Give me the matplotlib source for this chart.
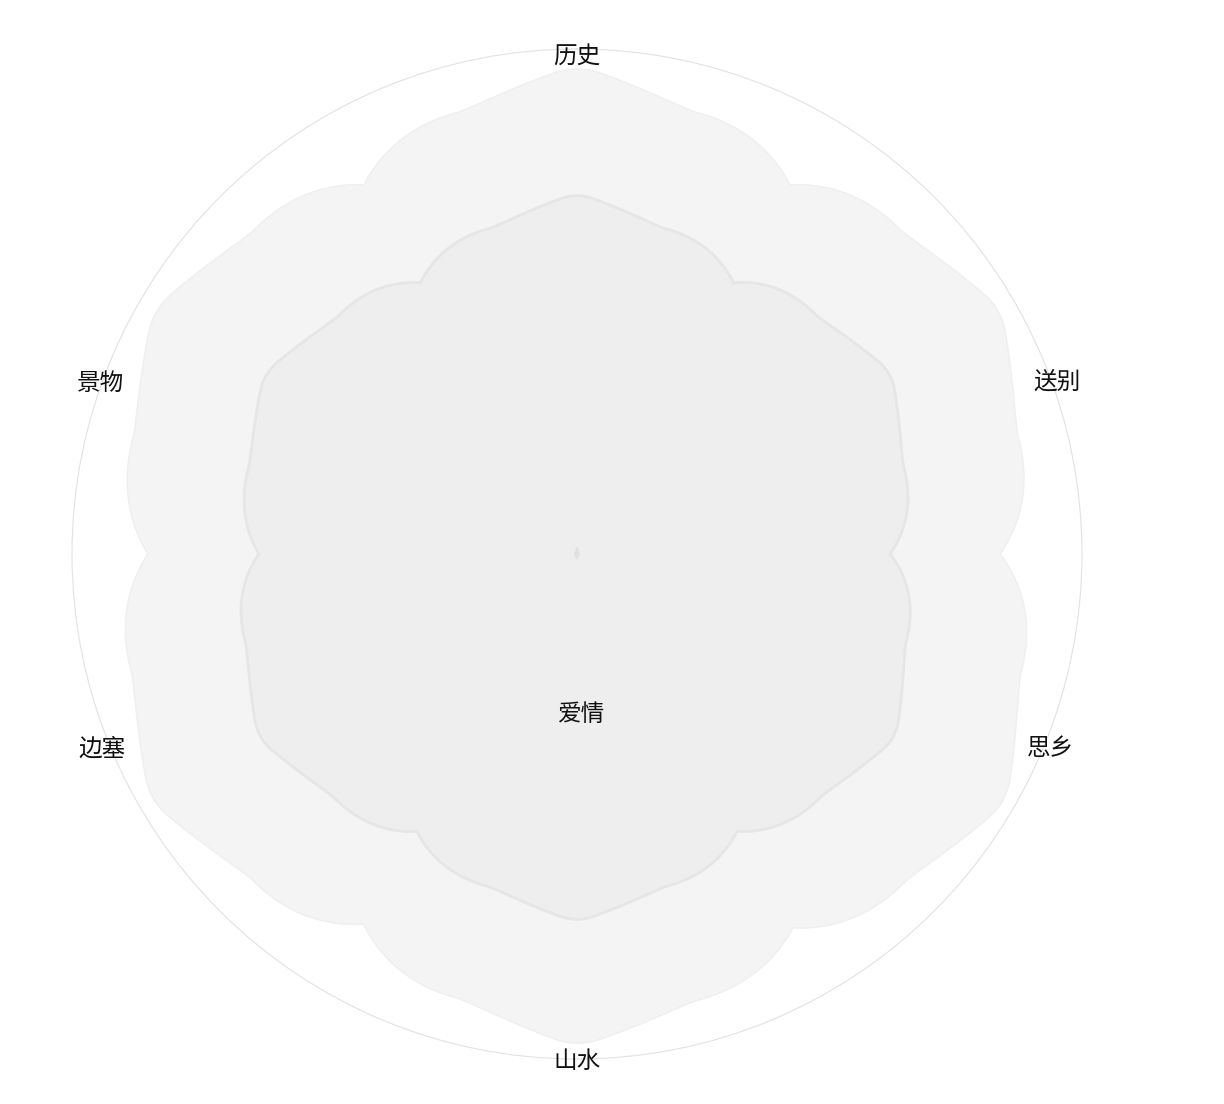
import numpy as np
import matplotlib
matplotlib.use('Agg')
import matplotlib.pyplot as plt

# ---------------- data ----------------
labels = ['历史', '送别', '思乡', '山水', '边塞', '景物']
label_angles = [0, 70, 112, 180, 248, 290]          # degrees, clockwise from top
label_radii = [99.2, 101.1, 101.1, 99.8, 101.4, 100.4]
center_label = '爱情'
center_label_pos = (178.5, 31.5)                     # (angle, radius)

peak_angles = [0, 60, 120, 180, 240, 300]            # notches lie halfway between
outer_peaks = [96.8, 97.0, 98.2, 97.6, 97.6, 96.8]
outer_notches = [84.4, 83.8, 85.5, 84.6, 85.0, 84.4]
inner_peaks = [71.5, 71.9, 72.9, 72.9, 72.9, 71.5]
inner_notches = [62.0, 62.0, 63.4, 63.4, 63.0, 62.0]
core_peaks = [1.3, 0.5, 0.5, 1.0, 0.5, 0.5]
core_notches = [0.3, 0.3, 0.3, 0.3, 0.3, 0.3]
r_max = 100

# ---------------- rendering helpers ----------------
P1, P2, T0 = 1.3, 2.3, 0.09

def _g(phi):
    return np.where(phi <= 0.5,
                    0.5 + 0.5 * np.clip(1 - 2 * phi, 0, None) ** P1,
                    0.5 - 0.5 * np.clip(2 * phi - 1, 0, None) ** P2)

def profile(phi):
    phi = np.abs(phi)
    # rounded cap at the tip of each petal
    slope = P1 * (1 - 2 * T0) ** (P1 - 1)
    b = slope / (2 * T0)
    a = float(_g(np.array(T0))) + b * T0 ** 2
    return np.where(phi < T0, a - b * phi ** 2, _g(phi))

def petal_curve(peaks, notches, n=240):
    th_all, r_all = [], []
    for k in range(len(peaks)):
        phi = np.linspace(-1, 1, n, endpoint=False)
        side = np.where(phi >= 0, notches[k], notches[k - 1])
        r = side + (peaks[k] - side) * profile(phi)
        th = np.deg2rad(peak_angles[k] + 30 * phi)
        th_all.append(th)
        r_all.append(r)
    th = np.concatenate(th_all)
    r = np.concatenate(r_all)
    return np.append(th, th[0]), np.append(r, r[0])

# ---------------- figure ----------------
plt.rcParams['font.family'] = ['Noto Sans CJK SC', 'DejaVu Sans']
W, H = 1224, 1104
fig = plt.figure(figsize=(W / 100, H / 100), dpi=100)
fig.patch.set_facecolor('white')
cx, cy, R = 577, 554, 505
ax = fig.add_axes([(cx - R) / W, (H - cy - R) / H, 2 * R / W, 2 * R / H], polar=True)
ax.set_theta_zero_location('N')
ax.set_theta_direction(-1)
ax.set_ylim(0, r_max)
ax.grid(False)
ax.set_xticks([])
ax.set_yticks([])
ax.set_facecolor('none')
ax.spines['polar'].set_color('#e2e2e2')
ax.spines['polar'].set_linewidth(0.8)

th, r = petal_curve(outer_peaks, outer_notches)
ax.fill(th, r, facecolor='#f4f4f4', edgecolor='#efefef', linewidth=1.0, zorder=2)

th, r = petal_curve(inner_peaks, inner_notches)
ax.fill(th, r, facecolor='#eeeeee', edgecolor='#e6e6e6', linewidth=2.0, zorder=3)

th, r = petal_curve(core_peaks, core_notches)
ax.fill(th, r, facecolor='#e4e4e4', edgecolor='#e0e0e0', linewidth=0.8, zorder=4)

for lab, a, rr in zip(labels, label_angles, label_radii):
    ax.annotate(lab, xy=(np.deg2rad(a), rr), xytext=(0, -3), textcoords='offset pixels',
                ha='center', va='center', fontsize=17, color='#111111',
                annotation_clip=False, zorder=6)
ax.annotate(center_label, xy=(np.deg2rad(center_label_pos[0]), center_label_pos[1]),
            xytext=(0, -1), textcoords='offset pixels',
            ha='center', va='center', fontsize=17, color='#111111', zorder=6)

fig.savefig('out.png', dpi=100, facecolor='white')
